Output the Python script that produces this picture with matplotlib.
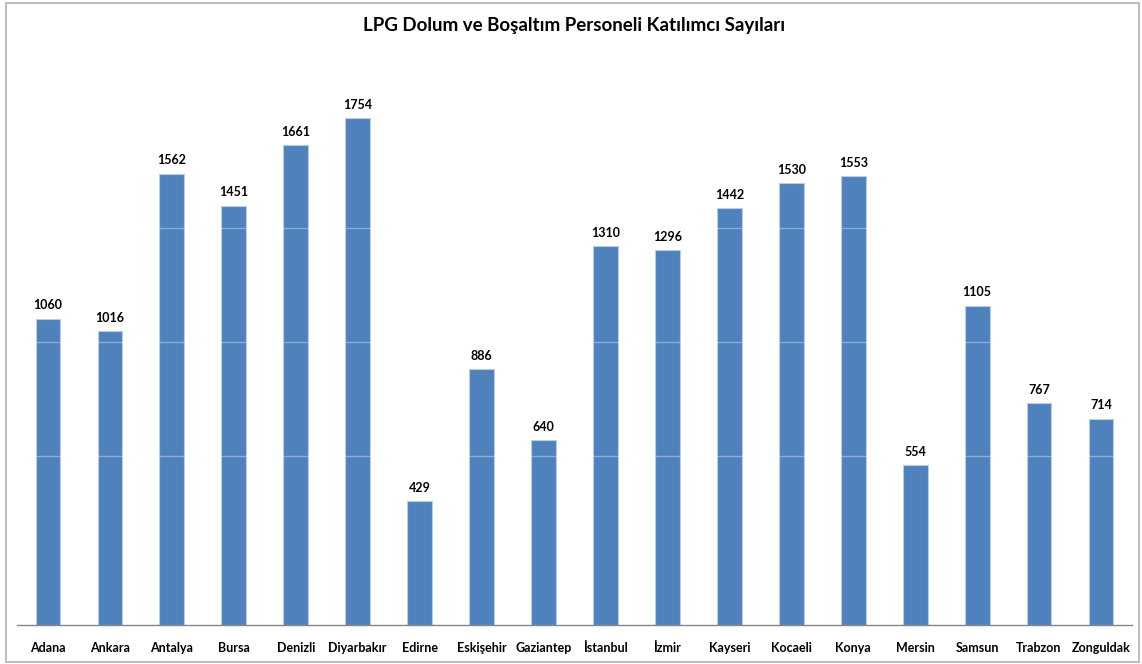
import matplotlib.pyplot as plt
from matplotlib.patches import Rectangle

cities = ["Adana", "Ankara", "Antalya", "Bursa", "Denizli", "Diyarbakır",
          "Edirne", "Eskişehir", "Gaziantep", "İstanbul", "İzmir", "Kayseri",
          "Kocaeli", "Konya", "Mersin", "Samsun", "Trabzon", "Zonguldak"]
counts = [1060, 1016, 1562, 1451, 1661, 1754, 429, 886, 640, 1310, 1296,
          1442, 1530, 1553, 554, 1105, 767, 714]
grid_levels = [585, 979, 1374]

plt.rcParams['font.family'] = ['Lato', 'DejaVu Sans']

fig = plt.figure(figsize=(11.42, 6.64), dpi=100)
W, H = 1142, 664

# outer chart frame
fig.patches.append(Rectangle((6 / W, 2 / H), 1133 / W, 659 / H,
                             transform=fig.transFigure, fill=False,
                             edgecolor="#BFBFBF", linewidth=1.5))

# plot area in pixels: left 17, right 1132, bottom 625, top 60
ax = fig.add_axes([17 / W, (H - 625) / H, 1115 / W, 565 / H])

x = range(len(cities))
ax.bar(x, counts, width=0.4, color="#4F81BD", edgecolor="#B9CDE5",
       linewidth=0.8, zorder=2)
# white gridlines, only show up where they cross the bars
for g in grid_levels:
    ax.axhline(g, color="white", alpha=0.35, linewidth=1, zorder=3)

for i, v in enumerate(counts):
    ax.text(i, v + 25, str(v), ha="center", va="bottom",
            fontsize=9, fontweight="bold")

ax.set_xlim(-0.5, len(cities) - 0.5)
ax.set_ylim(0, 565 / 0.289)
ax.set_xticks(list(x))
ax.set_xticklabels(cities, fontsize=9, fontweight="bold")
ax.tick_params(axis="x", length=0, pad=12)
ax.set_yticks([])

for side in ["top", "left", "right"]:
    ax.spines[side].set_visible(False)
ax.spines["bottom"].set_color("#868686")
ax.spines["bottom"].set_linewidth(1)

fig.text(574 / W, 1 - 26 / H, "LPG Dolum ve Boşaltım Personeli Katılımcı Sayıları",
         ha="center", va="center", fontsize=13.5, fontweight="bold")

fig.savefig("out.png", dpi=100)
